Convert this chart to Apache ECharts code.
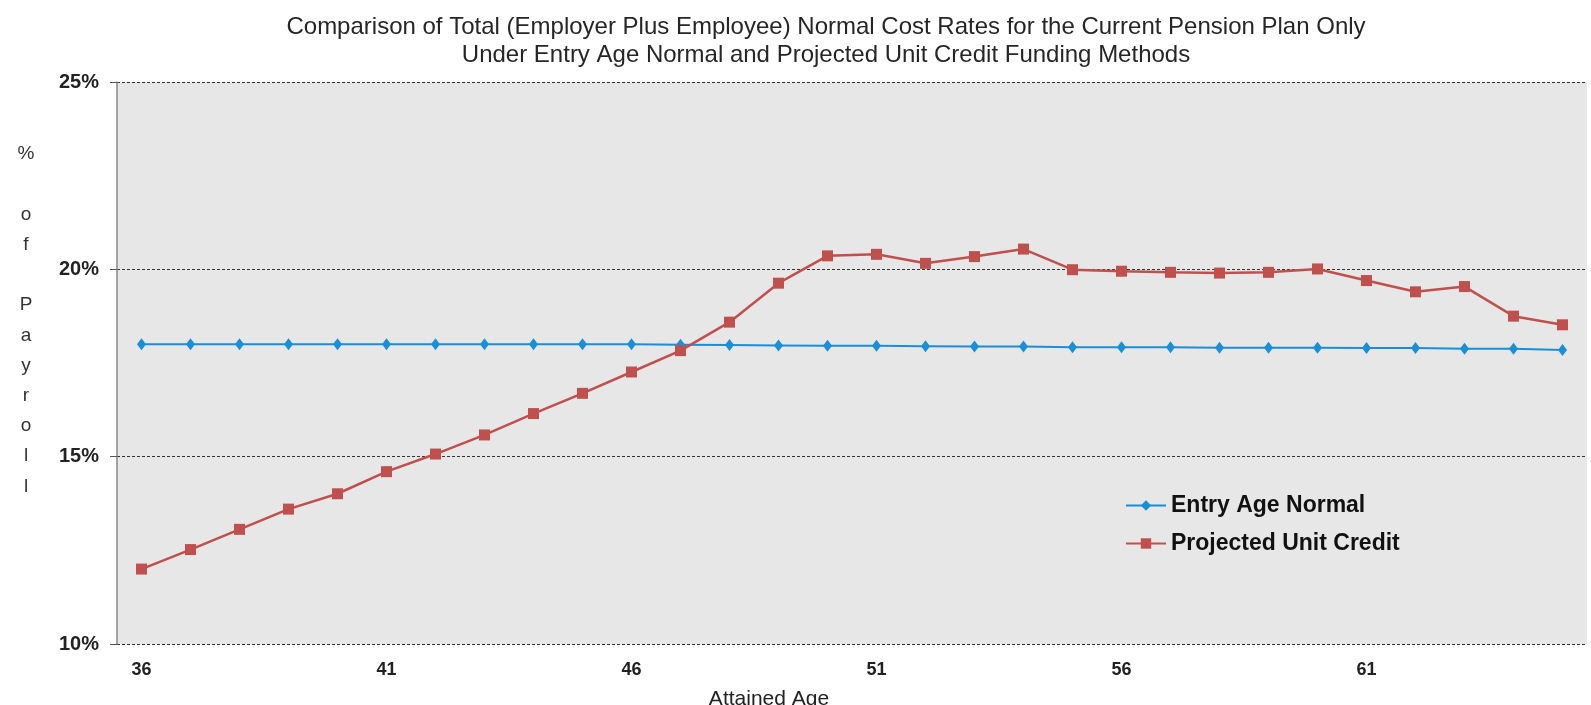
<!DOCTYPE html>
<html>
<head>
<meta charset="utf-8">
<script src="https://cdn.jsdelivr.net/npm/echarts@6/dist/echarts.min.js"></script>
<style>
  html, body { margin: 0; padding: 0; background: #ffffff; }
  #chart { width: 1591px; height: 705px; }
</style>
</head>
<body>
<div id="chart"></div>
<script>
// Attained ages along the horizontal axis
const ages = ['36','37','38','39','40','41','42','43','44','45','46','47','48','49','50',
              '51','52','53','54','55','56','57','58','59','60','61','62','63','64','65'];

// Total normal cost rate (% of payroll), Entry Age Normal method
const entryAgeNormal = [18.0, 18.0, 18.0, 18.0, 18.0, 18.0, 18.0, 18.0, 18.0, 18.0,
                        18.0, 17.99, 17.98, 17.97, 17.96, 17.96, 17.95, 17.94, 17.94, 17.92,
                        17.92, 17.92, 17.91, 17.91, 17.91, 17.9, 17.9, 17.88, 17.88, 17.85];

// Total normal cost rate (% of payroll), Projected Unit Credit method
const projectedUnitCredit = [12.0, 12.52, 13.06, 13.6, 14.01, 14.6, 15.07, 15.58, 16.15, 16.69,
                             17.26, 17.83, 18.59, 19.63, 20.36, 20.4, 20.16, 20.34, 20.54, 19.99,
                             19.95, 19.92, 19.9, 19.92, 20.01, 19.7, 19.4, 19.54, 18.75, 18.52];

// Percent-of-payroll ticks
const yMin = 10, yMax = 25, yStep = 5;

const FONT = '"Liberation Sans", Arial, sans-serif';
const chart = echarts.init(document.getElementById('chart'), null, { renderer: 'canvas' });

chart.setOption({
  animation: false,
  backgroundColor: '#ffffff',
  title: {
    text: 'Comparison of Total (Employer Plus Employee) Normal Cost Rates for the Current Pension Plan Only\nUnder Entry Age Normal and Projected Unit Credit Funding Methods',
    left: 821,
    top: 8,
    textAlign: 'center',
    textStyle: {
      fontFamily: FONT,
      fontSize: 24,
      fontWeight: 'normal',
      color: '#262626',
      lineHeight: 28.5
    }
  },
  grid: {
    left: 117,
    right: 4,
    top: 82,
    bottom: 61,
    show: true,
    backgroundColor: '#e7e7e7',
    borderWidth: 0
  },
  legend: {
    orient: 'vertical',
    left: 1120,
    top: 489,
    itemWidth: 40,
    itemHeight: 13,
    itemGap: 15,
    textStyle: {
      fontFamily: FONT,
      fontSize: 23,
      fontWeight: 'bold',
      color: '#111111'
    },
    data: ['Entry Age Normal', 'Projected Unit Credit']
  },
  xAxis: {
    type: 'category',
    data: ages,
    boundaryGap: true,
    axisLine: { show: false },
    axisTick: { show: false },
    axisLabel: {
      interval: 4,
      margin: 17,
      fontFamily: FONT,
      fontSize: 18,
      fontWeight: 'bold',
      color: '#222222'
    },
    splitLine: { show: false }
  },
  yAxis: {
    type: 'value',
    min: yMin,
    max: yMax,
    interval: yStep,
    axisLine: { show: true, lineStyle: { color: '#8a8a8a', width: 1.5 } },
    axisTick: { show: true, length: 7, lineStyle: { color: '#555555', width: 1 } },
    axisLabel: {
      formatter: '{value}%',
      margin: 18,
      fontFamily: FONT,
      fontSize: 20,
      fontWeight: 'bold',
      color: '#222222'
    },
    splitLine: {
      show: true,
      lineStyle: { color: '#333333', width: 1.2, type: [3, 2] }
    }
  },
  graphic: [
    {
      // vertical axis caption, one letter per line
      type: 'text',
      style: {
        x: 26,
        y: 139,
        text: '%\n \no\nf\n \nP\na\ny\nr\no\nl\nl',
        fontFamily: FONT,
        fontSize: 19,
        lineHeight: 30.2,
        fill: '#333333',
        align: 'center',
        verticalAlign: 'top'
      }
    },
    {
      type: 'text',
      style: {
        x: 769,
        y: 699,
        text: 'Attained Age',
        fontFamily: FONT,
        fontSize: 21,
        fill: '#222222',
        align: 'center',
        verticalAlign: 'middle'
      }
    }
  ],
  series: [
    {
      name: 'Entry Age Normal',
      type: 'line',
      data: entryAgeNormal,
      symbol: 'diamond',
      symbolSize: [9, 12],
      showAllSymbol: true,
      lineStyle: { color: '#1a8fd8', width: 2 },
      itemStyle: { color: '#1a8fd8' }
    },
    {
      name: 'Projected Unit Credit',
      type: 'line',
      data: projectedUnitCredit,
      symbol: 'rect',
      symbolSize: 11,
      showAllSymbol: true,
      lineStyle: { color: '#c0504d', width: 2.5 },
      itemStyle: { color: '#c0504d' }
    }
  ]
});
</script>
</body>
</html>
